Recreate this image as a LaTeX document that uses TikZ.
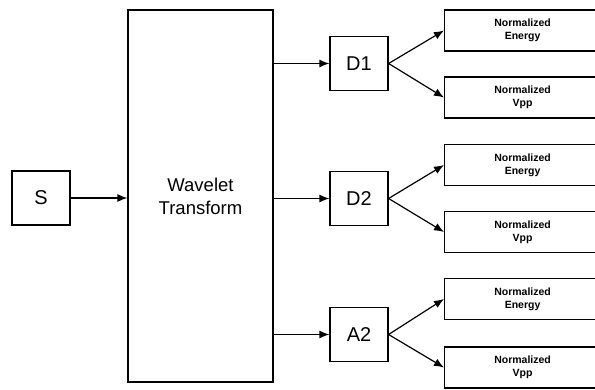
\documentclass[tikz,border=0pt]{standalone}
\usepackage{fontspec}
\setmainfont{Liberation Sans}
\usetikzlibrary{arrows.meta,positioning}

\begin{document}
\begin{tikzpicture}[x=1pt, y=1pt, line width=1.2pt,
  arr/.style={-{Latex[length=10pt,width=8pt]}},
  blk/.style={draw, inner sep=0pt, minimum width=58pt, minimum height=54pt, font=\fontsize{20}{22}\selectfont},
  outbox/.style={draw, anchor=west, inner sep=0pt, minimum width=156pt, minimum height=41pt,
                 align=center, font=\bfseries\fontsize{10.5}{13}\selectfont, text width=150pt}]
  \clip (0,0) rectangle (595,-389);
  \node[blk] (src) at (41,-198) {S};
  \node[draw, inner sep=0pt, minimum width=145pt, minimum height=372pt, align=center,
        font=\fontsize{18.5}{23}\selectfont] (wt) at (200.5,-196) {Wavelet\\Transform};
  \node[blk] (d1) at (359,-63.5) {D1};
  \node[blk] (d2) at (359,-198.5) {D2};
  \node[blk] (a2) at (359,-334.5) {A2};
  \node[outbox] (e1) at (444,-30.5) {Normalized\\Energy};
  \node[outbox] (v1) at (444,-97.5) {Normalized\\Vpp};
  \node[outbox] (e2) at (444,-165) {Normalized\\Energy};
  \node[outbox] (v2) at (444,-232) {Normalized\\Vpp};
  \node[outbox] (e3) at (444,-299) {Normalized\\Energy};
  \node[outbox] (v3) at (444,-367.5) {Normalized\\Vpp};
  \draw[arr] (src) -- (wt.west |- src);
  \draw[arr] (wt.east |- d1) -- (d1);
  \draw[arr] (wt.east |- d2) -- (d2);
  \draw[arr] (wt.east |- a2) -- (a2);
  \draw[arr] (d1.east) -- (e1.west);
  \draw[arr] (d1.east) -- (v1.west);
  \draw[arr] (d2.east) -- (e2.west);
  \draw[arr] (d2.east) -- (v2.west);
  \draw[arr] (a2.east) -- (e3.west);
  \draw[arr] (a2.east) -- (v3.west);
\end{tikzpicture}
\end{document}
